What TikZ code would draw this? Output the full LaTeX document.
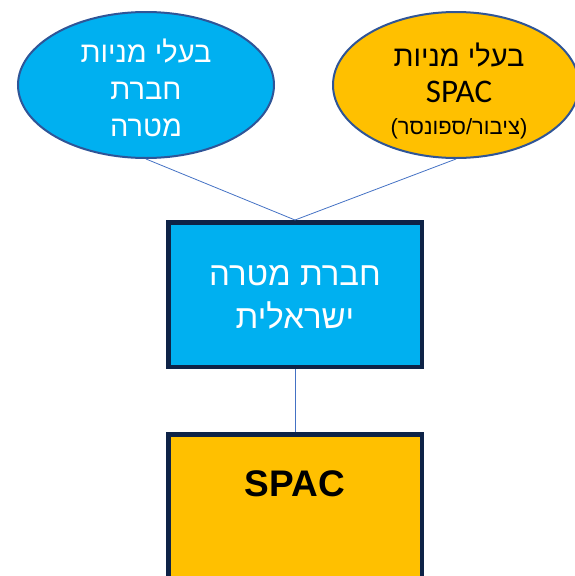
\documentclass[tikz,border=0pt]{standalone}
\usepackage{fontspec}
\setmainfont{Liberation Sans}
\newfontfamily\hebfont[Script=Hebrew]{Liberation Sans}
\newfontfamily\latfont{Carlito}
\TeXXeTstate=1
\usetikzlibrary{shapes.geometric}
\definecolor{targetblue}{HTML}{00B0F0}
\definecolor{spacgold}{HTML}{FFC000}
\definecolor{rimblue}{HTML}{2F5597}
\definecolor{boxnavy}{HTML}{0E2347}
\definecolor{linkblue}{HTML}{4472C4}
\newcommand{\heb}[1]{{\hebfont\beginR #1\endR}}
\tikzset{
    holder/.style = {ellipse,draw=rimblue,line width=2pt,inner sep=0pt,minimum height=146pt},
    entity/.style = {rectangle,draw=boxnavy,line width=4.5pt,inner sep=0pt,minimum width=253.5pt},
    link/.style = {draw=linkblue,line width=0.8pt}}
\begin{document}
\begin{tikzpicture}[x=1pt,y=-1pt]
        \useasboundingbox (0,0) rectangle (575,576);
        \path (146,85) node[holder,fill=targetblue,minimum width=256pt] (targetholders) {}
        (456,85) node[holder,fill=spacgold,minimum width=246pt] (spacholders) {}
        (295,294.5) node[entity,fill=targetblue,minimum height=144.5pt] (target) {}
        (295,534.25) node[entity,fill=spacgold,minimum height=200pt] (spac) {};
        \node[text=white,align=center,font=\fontsize{29}{37}\selectfont] (targetholderstext) at (146,88)
            {\heb{בעלי מניות}\\\heb{חברת}\\\heb{מטרה}};
        \node[align=center,font=\fontsize{29}{36}\selectfont] (spacholderstext) at (459,91)
            {\heb{בעלי מניות}\\
             {\fontsize{33}{36}\selectfont\latfont SPAC}\\[-4pt]
             {\fontsize{22}{24}\selectfont\heb{(ציבור/ספונסר)}}};
        \node[text=white,align=center,font=\fontsize{33}{43}\selectfont] (targettext) at (295,297)
            {\heb{חברת מטרה}\\\heb{ישראלית}};
        \node[font=\fontsize{37}{40}\selectfont\bfseries] (spactext) at (295,484) {SPAC};
        \draw[link] (targetholders.south) -- (target.north);
        \draw[link] (spacholders.south) -- (target.north);
        \draw[link] (target.south) -- (spac.north);
\end{tikzpicture}
\end{document}
